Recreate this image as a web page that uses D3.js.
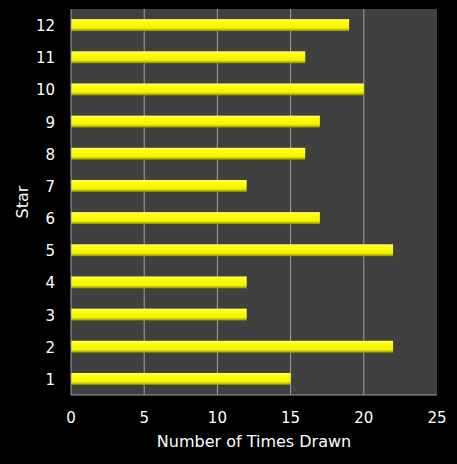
<!DOCTYPE html>
<html><head><meta charset="utf-8">
<script src="https://cdn.jsdelivr.net/npm/d3@7"></script>
<style>body{margin:0;background:#000}</style>
</head><body><div id="chart"></div>
<script>
// star number vs times drawn
var stars = ["1","2","3","4","5","6","7","8","9","10","11","12"];
var timesDrawn = [15,22,12,12,22,17,12,16,17,20,16,19];
var xTicks = [0,5,10,15,20,25];

var W = 457, H = 464;
var m = {left: 71, right: 20, top: 9, bottom: 69};

var svg = d3.select("#chart").append("svg").attr("width", W).attr("height", H)
  .style("font-family", "'DejaVu Sans', sans-serif");
svg.append("rect").attr("width", W).attr("height", H).attr("fill", "#000");

var x = d3.scaleLinear().domain([0, 25]).range([m.left, W - m.right]);
var y = d3.scaleBand().domain(stars.slice().reverse()).range([m.top, H - m.bottom])
  .paddingInner(0.63).paddingOuter(0.315);

var grad = svg.append("defs").append("linearGradient").attr("id", "bar")
  .attr("x1", 0).attr("y1", 0).attr("x2", 0).attr("y2", 1);
grad.append("stop").attr("offset", "0%").attr("stop-color", "#ffff80");
grad.append("stop").attr("offset", "25%").attr("stop-color", "#ffff00");
grad.append("stop").attr("offset", "75%").attr("stop-color", "#f2f200");
grad.append("stop").attr("offset", "100%").attr("stop-color", "#8c8c00");

svg.append("rect").attr("x", x(0)).attr("y", m.top)
  .attr("width", x(25) - x(0)).attr("height", H - m.bottom - m.top).attr("fill", "#404040");

svg.selectAll(".grid").data(xTicks.slice(1, -1)).enter().append("line")
  .attr("x1", d => x(d)).attr("x2", d => x(d))
  .attr("y1", m.top).attr("y2", H - m.bottom)
  .attr("stroke", "#a0a0a0").attr("stroke-width", 1);

svg.selectAll(".bar").data(timesDrawn).enter().append("rect")
  .attr("x", x(0)).attr("y", (d, i) => y(stars[i]))
  .attr("width", d => x(d) - x(0)).attr("height", y.bandwidth())
  .attr("fill", "url(#bar)");

// axes frame
svg.append("line").attr("x1", x(0)).attr("x2", x(0)).attr("y1", m.top).attr("y2", H - m.bottom).attr("stroke", "#a0a0a0");
svg.append("line").attr("x1", x(0)).attr("x2", x(25)).attr("y1", H - m.bottom).attr("y2", H - m.bottom).attr("stroke", "#a0a0a0");

svg.selectAll(".xl").data(xTicks).enter().append("text")
  .attr("x", d => x(d)).attr("y", H - m.bottom + 28)
  .attr("text-anchor", "middle").attr("fill", "#fff").attr("font-size", 15).text(d => d);

svg.selectAll(".yl").data(stars).enter().append("text")
  .attr("x", x(0) - 16).attr("y", d => y(d) + y.bandwidth() / 2 + 6)
  .attr("text-anchor", "end").attr("fill", "#fff").attr("font-size", 15).text(d => d);

svg.append("text").attr("x", (x(0) + x(25)) / 2).attr("y", H - 17)
  .attr("text-anchor", "middle").attr("fill", "#fff").attr("font-size", 16).text("Number of Times Drawn");
svg.append("text").attr("transform", "translate(28," + ((m.top + H - m.bottom) / 2) + ") rotate(-90)")
  .attr("text-anchor", "middle").attr("fill", "#fff").attr("font-size", 16).text("Star");
</script></body></html>
